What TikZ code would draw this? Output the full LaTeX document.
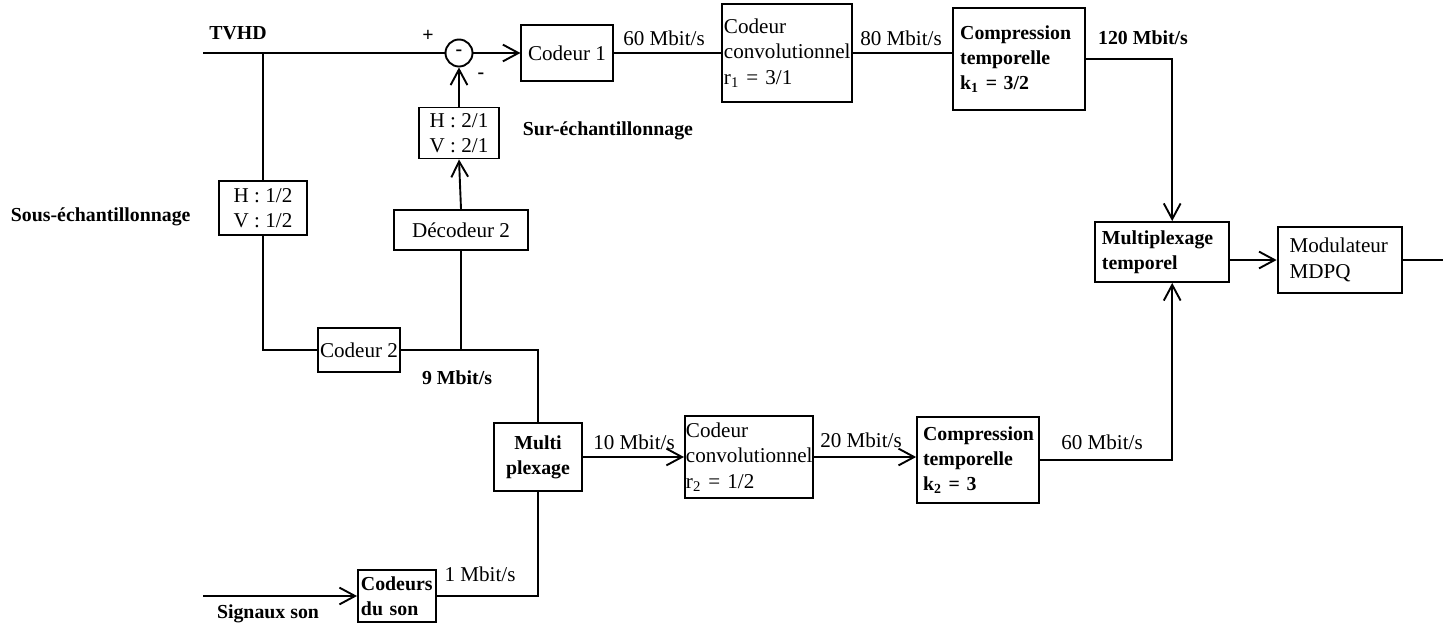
\documentclass[tikz,border=0pt]{standalone}
\usepackage{fontspec}
\setmainfont{Liberation Serif}
\usetikzlibrary{positioning,arrows.meta}

\begin{document}
\begin{tikzpicture}[
			x=0.016667cm, y=-0.016667cm,
			line width=0.9pt,
			every node/.style={font=\fontsize{10}{12}\selectfont},
			heavy/.style={font=\fontsize{9.4}{12}\selectfont\bfseries},
			box/.style={draw, inner sep=1pt, align=center},
			lbox/.style={draw, inner ysep=1pt, align=left},
			arrow/.style={-{Straight Barb[length=2.6mm,width=2.8mm]}}
			]
			
			\useasboundingbox (0,0) rectangle (1443,629);
			
			% main video path
			\node[draw,circle,minimum size=0.45cm,inner sep=0pt,heavy] (sum) at (459,53) {-};
			\node[box,minimum width=1.52cm,minimum height=0.92cm] (cod1) at (567,53) {Codeur 1};
			\node[lbox,inner xsep=1pt,text width=2.1cm,minimum height=1.62cm] (conv1) at (787,53) {Codeur\\convolutionnel\\r\textsubscript{1} = 3/1};
			\node[lbox,heavy,inner xsep=0.12cm,text width=1.96cm,minimum height=1.7cm] (comp1) at (1019,59) {Compression\\temporelle\\k\textsubscript{1} = 3/2};
			
			\node[box,minimum width=1.32cm,minimum height=0.85cm] (h21) at (459,133) {H : 2/1\\V : 2/1};
			\node[box,minimum width=1.47cm,minimum height=0.9cm] (h12) at (263,208) {H : 1/2\\V : 1/2};
			\node[box,minimum width=2.22cm,minimum height=0.67cm] (dec2) at (461,230) {Décodeur 2};
			\node[box,minimum width=1.37cm,minimum height=0.73cm] (cod2) at (359,350) {Codeur 2};
			
			% multiplex and modulation
			\node[lbox,heavy,inner xsep=0.11cm,text width=2.0cm,minimum height=1.0cm] (mux) at (1162,252) {Multiplexage\\temporel};
			\node[lbox,inner xsep=0.2cm,text width=1.68cm,minimum height=1.1cm] (mod) at (1340,260) {Modulateur\\MDPQ};
			
			% lower path
			\node[box,heavy,minimum width=1.47cm,minimum height=1.12cm] (mux2) at (538,457) {Multi\\plexage};
			\node[lbox,inner xsep=0.5pt,text width=2.1cm,minimum height=1.38cm] (conv2) at (749,457) {Codeur\\convolutionnel\\r\textsubscript{2} = 1/2};
			\node[lbox,heavy,inner xsep=0.1cm,text width=1.83cm,minimum height=1.42cm] (comp2) at (978,460) {Compression\\temporelle\\k\textsubscript{2} = 3};
			\node[lbox,heavy,inner xsep=0.05cm,text width=1.2cm,minimum height=0.88cm] (son) at (397,596) {Codeurs\\du son};
			
			% labels
			\node[heavy] (tvhd) at (238,33) {TVHD};
			\node[heavy] (plus) at (428,36) {+};
			\node[heavy] (minus) at (481,76) {-};
			\node[heavy,anchor=west,inner sep=0pt] (sur) at (522,131) {Sur-échantillonnage};
			\node[heavy,anchor=west,inner sep=0pt] (sous) at (10,217) {Sous-échantillonnage};
			\node (d60) at (664,38) {60 Mbit/s};
			\node (d80) at (901,38) {80 Mbit/s};
			\node[heavy] (d120) at (1143,38) {120 Mbit/s};
			\node[heavy] (d9) at (457,378) {9 Mbit/s};
			\node (d10) at (634,442) {10 Mbit/s};
			\node (d20) at (861,440) {20 Mbit/s};
			\node (d60b) at (1102,442) {60 Mbit/s};
			\node (d1) at (480,574) {1 Mbit/s};
			\node[heavy] (sig) at (268,614) {Signaux son};
			
			\coordinate (tv) at (203,53);
			\coordinate (br1) at (263,53);
			\coordinate (br2) at (cod2.east -| dec2.south);
			\coordinate (snd) at (203,596);
			\coordinate (out) at (1443,260);
			
			\draw (tv) -- (sum.west);
			\draw (br1) -- (h12.north);
			\draw (h12.south) |- (cod2.west);
			\draw (cod2.east) -| (mux2.north);
			\draw (br2) -- (dec2.south);
			\draw[arrow] (dec2.north) -- (h21.south);
			\draw[arrow] (h21.north) -- (sum.south);
			\draw[arrow] (sum.east) -- (cod1.west);
			\draw (cod1.east) -- (conv1.west);
			\draw (conv1.east) -- (conv1.east -| comp1.west);
			\draw[arrow] (comp1.east) -| ([xshift=0.17cm]mux.north);
			\draw[arrow] (mux.east |- mod.west) -- (mod.west);
			\draw (mod.east) -- (out);
			
			\draw[arrow] (mux2.east) -- (conv2.west);
			\draw[arrow] (conv2.east) -- (conv2.east -| comp2.west);
			\draw[arrow] (comp2.east) -| ([xshift=0.17cm]mux.south);
			\draw[arrow] (snd) -- (son.west);
			\draw (son.east) -| (mux2.south);
			
		\end{tikzpicture}
\end{document}
